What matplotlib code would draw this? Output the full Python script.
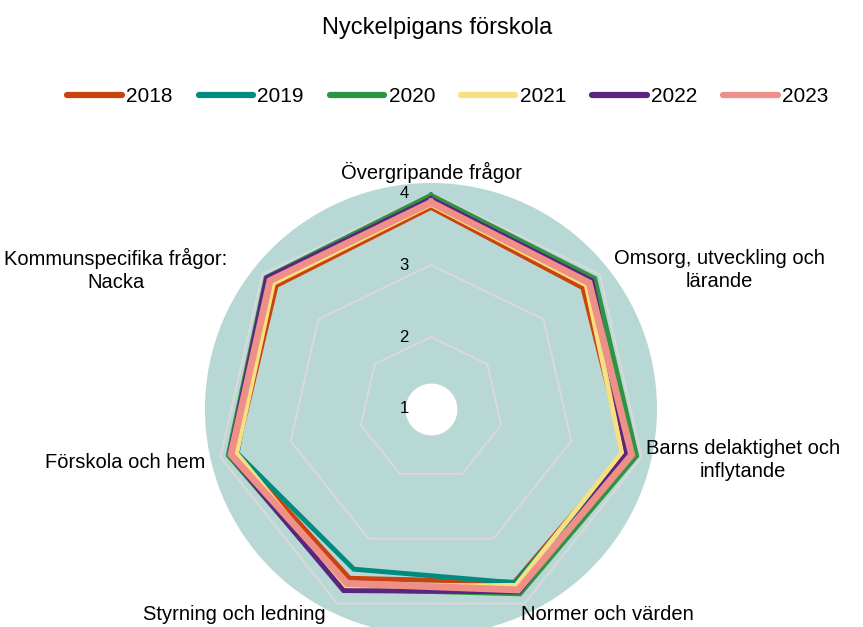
import numpy as np
import matplotlib.pyplot as plt

plt.rcParams['font.family'] = ['Liberation Sans', 'DejaVu Sans']

# --- data ---
categories = ['Övergripande frågor', 'Omsorg, utveckling och\nlärande',
              'Barns delaktighet och\ninflytande', 'Normer och värden',
              'Styrning och ledning', 'Förskola och hem',
              'Kommunspecifika frågor:\nNacka']
years = ['2018', '2019', '2020', '2021', '2022', '2023']
v2018 = [3.80, 3.70, 3.76, 3.67, 3.61, 3.78, 3.75]
v2019 = [3.95, 3.85, 3.80, 3.68, 3.47, 3.76, 3.90]
v2020 = [3.97, 3.91, 3.93, 3.85, 3.78, 3.89, 3.93]
v2021 = [3.84, 3.76, 3.72, 3.72, 3.74, 3.77, 3.80]
v2022 = [3.92, 3.86, 3.79, 3.82, 3.80, 3.87, 3.92]
v2023 = [3.87, 3.81, 3.86, 3.79, 3.69, 3.85, 3.86]
series = [v2018, v2019, v2020, v2021, v2022, v2023]
colors = ['#c9430f', '#008b80', '#2e9444', '#f7e081', '#5b2480', '#ee8f88']
widths = [3.5, 3.5, 3.5, 3.5, 3.5, 5.0]
rticks = [1, 2, 3, 4]

n = len(categories)
theta = np.linspace(0, 2 * np.pi, n, endpoint=False)
theta_c = np.append(theta, theta[0])

fig = plt.figure(figsize=(8.63, 6.27), dpi=100)
ax = fig.add_axes([0.2375, -0.0128, 0.5238, 0.721], projection='polar')
ax.set_theta_zero_location('N')
ax.set_theta_direction(-1)
ax.set_ylim(1, 4.14)
ax.set_facecolor('#b8d8d5')
ax.spines['polar'].set_visible(False)
ax.grid(False)
ax.set_yticks([])
ax.set_xticks([])

# polygon gridlines
for r in rticks[1:]:
    ax.plot(theta_c, [r] * (n + 1), color='#d9d9d9', lw=1.5, zorder=1)

for vals, c, lw, yr in zip(series, colors, widths, years):
    ax.plot(theta_c, vals + vals[:1], color=c, lw=lw, label=yr, zorder=3,
            solid_joinstyle='miter')

# white hole in the middle
circ = np.linspace(0, 2 * np.pi, 200)
ax.fill_between(circ, 1, 1.36, color='white', zorder=4, lw=0)

for r in rticks:
    ax.annotate(str(r), xy=(0, r), xytext=(-19.5, 0), textcoords='offset points',
                ha='center', va='center', fontsize=12, zorder=5,
                annotation_clip=False)

# category labels
label_pos = [(431, 172), (719, 270), (743, 460), (607, 615),
             (234, 615), (125, 462), (116, 270)]
for cat, (px, py) in zip(categories, label_pos):
    fig.text(px / 863, 1 - py / 627, cat, ha='center', va='center', fontsize=14.5,
             multialignment='center', linespacing=1.25)

fig.text(437 / 863, 1 - 28 / 627, 'Nyckelpigans förskola', ha='center',
         va='center', fontsize=17)

leg = fig.legend(loc='center', bbox_to_anchor=(448 / 863, 1 - 97 / 627), ncol=6,
                 frameon=False, fontsize=15, handlelength=2.6,
                 handletextpad=0.22, columnspacing=1.25)
for h in leg.get_lines():
    h.set_linewidth(4.5)
    h.set_solid_capstyle('round')

fig.savefig('out.png', dpi=100)
